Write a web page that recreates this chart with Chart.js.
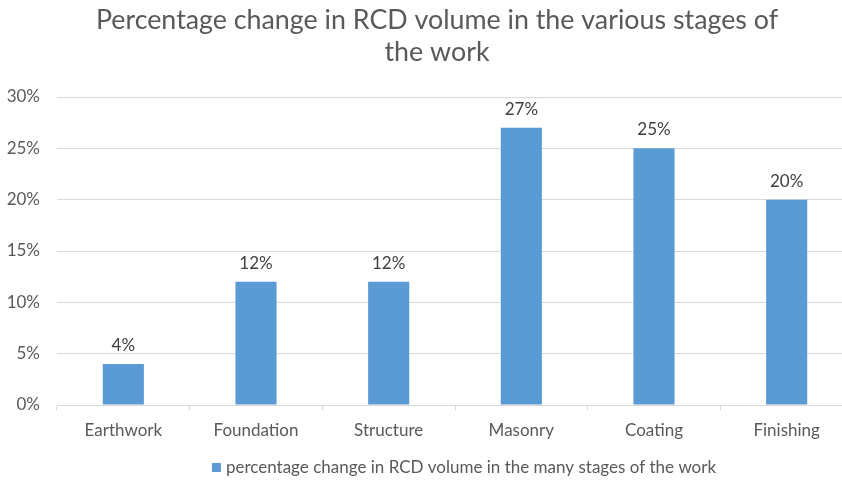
<!DOCTYPE html>
<html><head><meta charset="utf-8">
<script src="https://cdn.jsdelivr.net/npm/chart.js@4"></script>
<style>html,body{margin:0;padding:0;overflow:hidden;background:#fff}#wrap{position:absolute;left:0;top:0;width:853px;height:480px}</style>
</head><body><div id="wrap"><canvas id="c" width="853" height="480"></canvas></div>
<script>
const categories = ["Earthwork","Foundation","Structure","Masonry","Coating","Finishing"];
const values = [4, 12, 12, 27, 25, 20];
const yTicks = [0,5,10,15,20,25,30];
const seriesLabel = "percentage change in RCD volume in the many stages of the work";
const titleLines = ["Percentage change in RCD volume in the various stages of","the work"];
const FONT = "Lato, 'Open Sans', sans-serif";
const BAR_COLOR = '#5B9BD5';

const labelPlugin = {
  id:'barLabels',
  afterDatasetsDraw(chart){
    const ctx = chart.ctx;
    const meta = chart.getDatasetMeta(0);
    ctx.save();
    ctx.font = "17px " + FONT;
    ctx.fillStyle = "#404040";
    ctx.textAlign = "center";
    ctx.textBaseline = "bottom";
    meta.data.forEach((el,i)=>{
      ctx.fillText(values[i] + "%", el.x, el.y - 10);
    });
    ctx.restore();
  }
};

const titleLegendPlugin = {
  id:'titleLegend',
  afterDraw(chart){
    const ctx = chart.ctx;
    ctx.save();
    // title
    ctx.font = "26.8px " + FONT;
    ctx.fillStyle = "#595959";
    ctx.textAlign = "center";
    ctx.textBaseline = "middle";
    ctx.fillText(titleLines[0], 437, 20);
    ctx.fillText(titleLines[1], 437, 52);
    // legend
    ctx.font = "17px " + FONT;
    ctx.textAlign = "left";
    const tw = ctx.measureText(seriesLabel).width;
    const total = 9 + 5 + tw;
    const x0 = 464 - total/2;
    ctx.fillStyle = BAR_COLOR;
    ctx.fillRect(x0, 463, 9, 9);
    ctx.fillStyle = "#595959";
    ctx.fillText(seriesLabel, x0 + 14, 467.5);
    ctx.restore();
  }
};

new Chart(document.getElementById('c'), {
  type:'bar',
  data:{labels:categories, datasets:[{label:seriesLabel, data:values, backgroundColor:BAR_COLOR, borderWidth:0, barPercentage:0.31, categoryPercentage:1}]},
  options:{
    responsive:false, animation:false,
    layout:{padding:{left:0,right:0,top:97,bottom:29.6}},
    plugins:{
      title:{display:false},
      legend:{display:false},
      tooltip:{enabled:false}
    },
    scales:{
      x:{grid:{offset:true, drawOnChartArea:false, drawTicks:true, tickLength:5, color:'#d9d9d9'}, border:{color:'#d9d9d9'}, ticks:{color:'#595959', font:{family:FONT,size:17}, padding:10}},
      y:{min:0,max:30, afterFit(ax){ax.width=57;}, afterBuildTicks(ax){ax.ticks = yTicks.map(v=>({value:v}));}, grid:{color:'#d9d9d9', drawTicks:false}, border:{display:false}, ticks:{color:'#595959', font:{family:FONT,size:17}, padding:17, callback:v=>v+'%'}}
    }
  },
  plugins:[labelPlugin, titleLegendPlugin]
});
</script></body></html>
